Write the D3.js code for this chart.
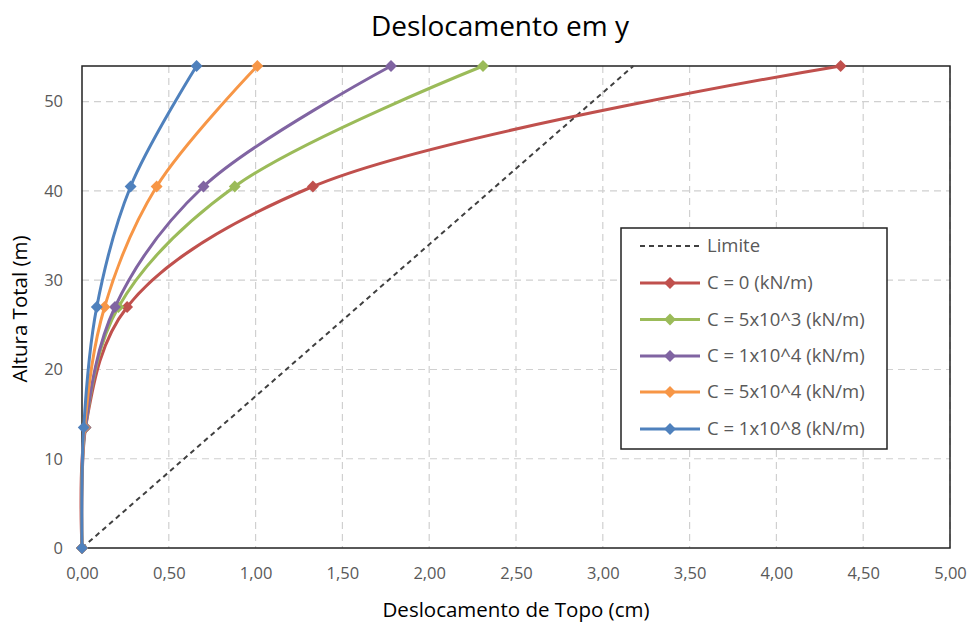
<!DOCTYPE html>
<html>
<head>
<meta charset="utf-8">
<script src="https://cdn.jsdelivr.net/npm/d3@7"></script>
<style>
  html, body { margin: 0; padding: 0; background: #fff; }
  svg { display: block; }
</style>
</head>
<body>
<svg id="chart" width="973" height="624"></svg>
<script>
// Heights along the building (m)
const heights = [0, 13.5, 27, 40.5, 54];

// Top displacement (cm) for each spring stiffness C
const seriesNames = [
  "C = 0 (kN/m)",
  "C = 5x10^3 (kN/m)",
  "C = 1x10^4 (kN/m)",
  "C = 5x10^4 (kN/m)",
  "C = 1x10^8 (kN/m)"
];
const dispC0    = [0, 0.02, 0.26, 1.33, 4.37];
const dispC5e3  = [0, 0.02, 0.21, 0.88, 2.31];
const dispC1e4  = [0, 0.02, 0.19, 0.70, 1.78];
const dispC5e4  = [0, 0.015, 0.13, 0.43, 1.01];
const dispC1e8  = [0, 0.01, 0.085, 0.28, 0.66];
const seriesValues = [dispC0, dispC5e3, dispC1e4, dispC5e4, dispC1e8];
const seriesColors = ["#C0504D", "#9BBB59", "#8064A2", "#F79646", "#4F81BD"];

// Allowed displacement line (H/1700)
const limitHeights = [0, 54];
const limitDisp = [0, 3.176];

const xTicks = [0, 0.5, 1, 1.5, 2, 2.5, 3, 3.5, 4, 4.5, 5];
const yTicks = [0, 10, 20, 30, 40, 50];

const svg = d3.select("#chart");
const font = "'Open Sans', 'Noto Sans', sans-serif";
const m = { left: 82, right: 950, top: 66, bottom: 548 };

const x = d3.scaleLinear().domain([0, 5]).range([m.left, m.right]);
const y = d3.scaleLinear().domain([0, 54]).range([m.bottom, m.top]);

// Gridlines
const grid = svg.append("g");
grid.selectAll("line.gx").data(xTicks.slice(1)).join("line")
  .attr("x1", d => x(d)).attr("x2", d => x(d))
  .attr("y1", m.top).attr("y2", m.bottom)
  .attr("stroke", "#d0d0d0").attr("stroke-width", 1.2).attr("stroke-dasharray", "7,5");
grid.selectAll("line.gy").data(yTicks.slice(1)).join("line")
  .attr("x1", m.left).attr("x2", m.right)
  .attr("y1", d => y(d)).attr("y2", d => y(d))
  .attr("stroke", "#d0d0d0").attr("stroke-width", 1.2).attr("stroke-dasharray", "7,5");

// Plot frame
svg.append("rect")
  .attr("x", m.left).attr("y", m.top)
  .attr("width", m.right - m.left).attr("height", m.bottom - m.top)
  .attr("fill", "none").attr("stroke", "#222").attr("stroke-width", 1.5);

// Axes (labels only; frame draws the lines)
const xAxis = svg.append("g").attr("transform", `translate(0,${m.bottom})`)
  .call(d3.axisBottom(x).tickValues(xTicks).tickSize(0).tickPadding(19)
    .tickFormat(d => d3.format(".2f")(d).replace(".", ",")));
xAxis.select(".domain").remove();
xAxis.selectAll("text").attr("font-family", font).attr("font-size", 16.5).attr("fill", "#595959");

const yAxis = svg.append("g").attr("transform", `translate(${m.left},0)`)
  .call(d3.axisLeft(y).tickValues(yTicks).tickSize(0).tickPadding(19));
yAxis.select(".domain").remove();
yAxis.selectAll("text").attr("font-family", font).attr("font-size", 16.5).attr("fill", "#595959");

// Limit line
const line = d3.line().x(d => x(d[0])).y(d => y(d[1]));
svg.append("path")
  .datum(limitDisp.map((d, i) => [d, limitHeights[i]]))
  .attr("d", line)
  .attr("fill", "none").attr("stroke", "#404040").attr("stroke-width", 2)
  .attr("stroke-dasharray", "5,4");

// Series curves, smoothed
const smooth = d3.line().x(d => x(d[0])).y(d => y(d[1])).curve(d3.curveCatmullRom.alpha(0.5));
const diamond = d3.symbol().type(d3.symbolDiamond2).size(90);

seriesValues.forEach((vals, i) => {
  const pts = vals.map((v, j) => [v, heights[j]]);
  const g = svg.append("g");
  g.append("path").datum(pts).attr("d", smooth)
    .attr("fill", "none").attr("stroke", seriesColors[i]).attr("stroke-width", 3)
    .attr("stroke-linejoin", "round");
  g.selectAll("path.mk").data(pts).join("path")
    .attr("class", "mk")
    .attr("d", diamond)
    .attr("transform", d => `translate(${x(d[0])},${y(d[1])})`)
    .attr("fill", seriesColors[i]);
});

// Title
svg.append("text").attr("x", 500).attr("y", 36).attr("text-anchor", "middle")
  .attr("font-family", font).attr("font-size", 28).attr("fill", "#000")
  .text("Deslocamento em y");

// Axis titles
svg.append("text").attr("x", 516).attr("y", 617).attr("text-anchor", "middle")
  .attr("font-family", font).attr("font-size", 20.5).attr("fill", "#000")
  .text("Deslocamento de Topo (cm)");
svg.append("text").attr("transform", "translate(27,309) rotate(-90)").attr("text-anchor", "middle")
  .attr("font-family", font).attr("font-size", 20.5).attr("fill", "#000")
  .text("Altura Total (m)");

// Legend
const lg = svg.append("g");
lg.append("rect").attr("x", 621).attr("y", 228).attr("width", 266).attr("height", 221)
  .attr("fill", "#fff").attr("stroke", "#222").attr("stroke-width", 1.5);
const rowY = [246, 283, 319.5, 356, 392, 429];
lg.append("line").attr("x1", 640).attr("x2", 700).attr("y1", rowY[0]).attr("y2", rowY[0])
  .attr("stroke", "#404040").attr("stroke-width", 2).attr("stroke-dasharray", "5,4");
lg.append("text").attr("x", 707).attr("y", rowY[0]).attr("dy", "0.35em")
  .attr("font-family", font).attr("font-size", 18.5).attr("fill", "#595959").text("Limite");
seriesNames.forEach((name, i) => {
  const yy = rowY[i + 1];
  lg.append("line").attr("x1", 640).attr("x2", 700).attr("y1", yy).attr("y2", yy)
    .attr("stroke", seriesColors[i]).attr("stroke-width", 3);
  lg.append("path").attr("d", diamond).attr("transform", `translate(670,${yy})`)
    .attr("fill", seriesColors[i]);
  lg.append("text").attr("x", 707).attr("y", yy).attr("dy", "0.35em")
    .attr("font-family", font).attr("font-size", 18.5).attr("fill", "#595959").text(name);
});
</script>
</body>
</html>
